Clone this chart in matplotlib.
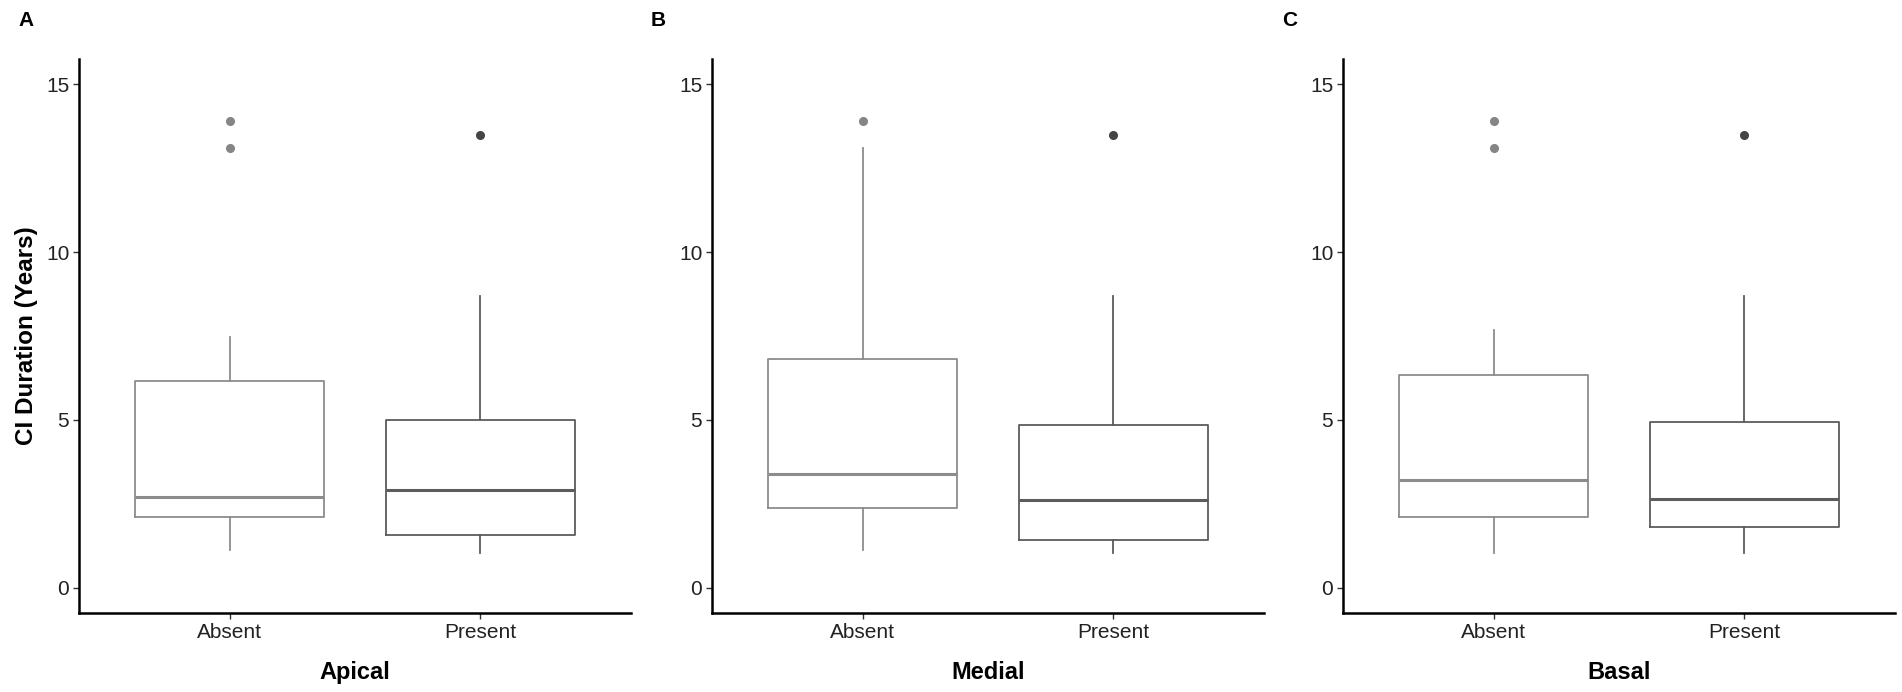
import matplotlib
matplotlib.use("Agg")
import matplotlib.pyplot as plt

plt.rcParams['font.family'] = ['Liberation Sans', 'DejaVu Sans']

# data (box stats per panel, Absent / Present)
panels = ['A', 'B', 'C']
xtitles = ['Apical', 'Medial', 'Basal']
groups = ['Absent', 'Present']

q1 = [[2.12, 1.58], [2.37, 1.41], [2.12, 1.82]]
med = [[2.70, 2.90], [3.40, 2.62], [3.22, 2.64]]
q3 = [[6.16, 4.99], [6.82, 4.84], [6.33, 4.95]]
wlo = [[1.13, 1.03], [1.13, 1.03], [1.03, 1.05]]
whi = [[7.48, 8.69], [13.11, 8.69], [7.69, 8.70]]
outliers = [[[13.11, 13.91], [13.5]],
            [[13.91], [13.5]],
            [[13.11, 13.91], [13.5]]]

box_colors = ['#8c8c8c', '#5c5c5c']
pt_colors = ['#858585', '#454545']

W, H = 1902, 692
fig = plt.figure(figsize=(W / 100, H / 100), dpi=100)

lefts = [79, 712, 1343]
ax_w = 552
ax_top, ax_bot = 59, 613

for i in range(3):
    ax = fig.add_axes([lefts[i] / W, 1 - ax_bot / H, ax_w / W, (ax_bot - ax_top) / H])
    for j in range(2):
        stats = [{
            'q1': q1[i][j], 'med': med[i][j], 'q3': q3[i][j],
            'whislo': wlo[i][j], 'whishi': whi[i][j], 'fliers': outliers[i][j],
        }]
        c = box_colors[j]
        ax.bxp(stats, positions=[j + 1], widths=0.75, showcaps=False,
               boxprops=dict(color=c, linewidth=1.3),
               whiskerprops=dict(color=c, linewidth=1.3),
               medianprops=dict(color=c, linewidth=2.2),
               flierprops=dict(marker='o', markersize=5.5, markerfacecolor=pt_colors[j],
                               markeredgecolor=pt_colors[j]))
    ax.set_xlim(0.4, 2.6)
    ax.set_ylim(-0.75, 15.75)
    ax.set_xticks([1, 2])
    ax.set_xticklabels(groups)
    ax.set_yticks([0, 5, 10, 15])
    ax.tick_params(labelsize=15, length=4, width=1, color='#333333', labelcolor='#222222', pad=3)
    for s in ['top', 'right']:
        ax.spines[s].set_visible(False)
    for s in ['left', 'bottom']:
        ax.spines[s].set_linewidth(1.8)
        ax.spines[s].set_color('black')
    ax.set_xlabel(xtitles[i], fontsize=17, fontweight='bold', labelpad=14)
    if i == 0:
        ax.set_ylabel('CI Duration (Years)', fontsize=17.5, fontweight='bold', labelpad=6)
    fig.text((lefts[i] - 61) / W, 1 - 20 / H, panels[i], fontsize=15, fontweight='bold',
             va='center', ha='left')

fig.savefig('out.png', dpi=100, facecolor='white')
